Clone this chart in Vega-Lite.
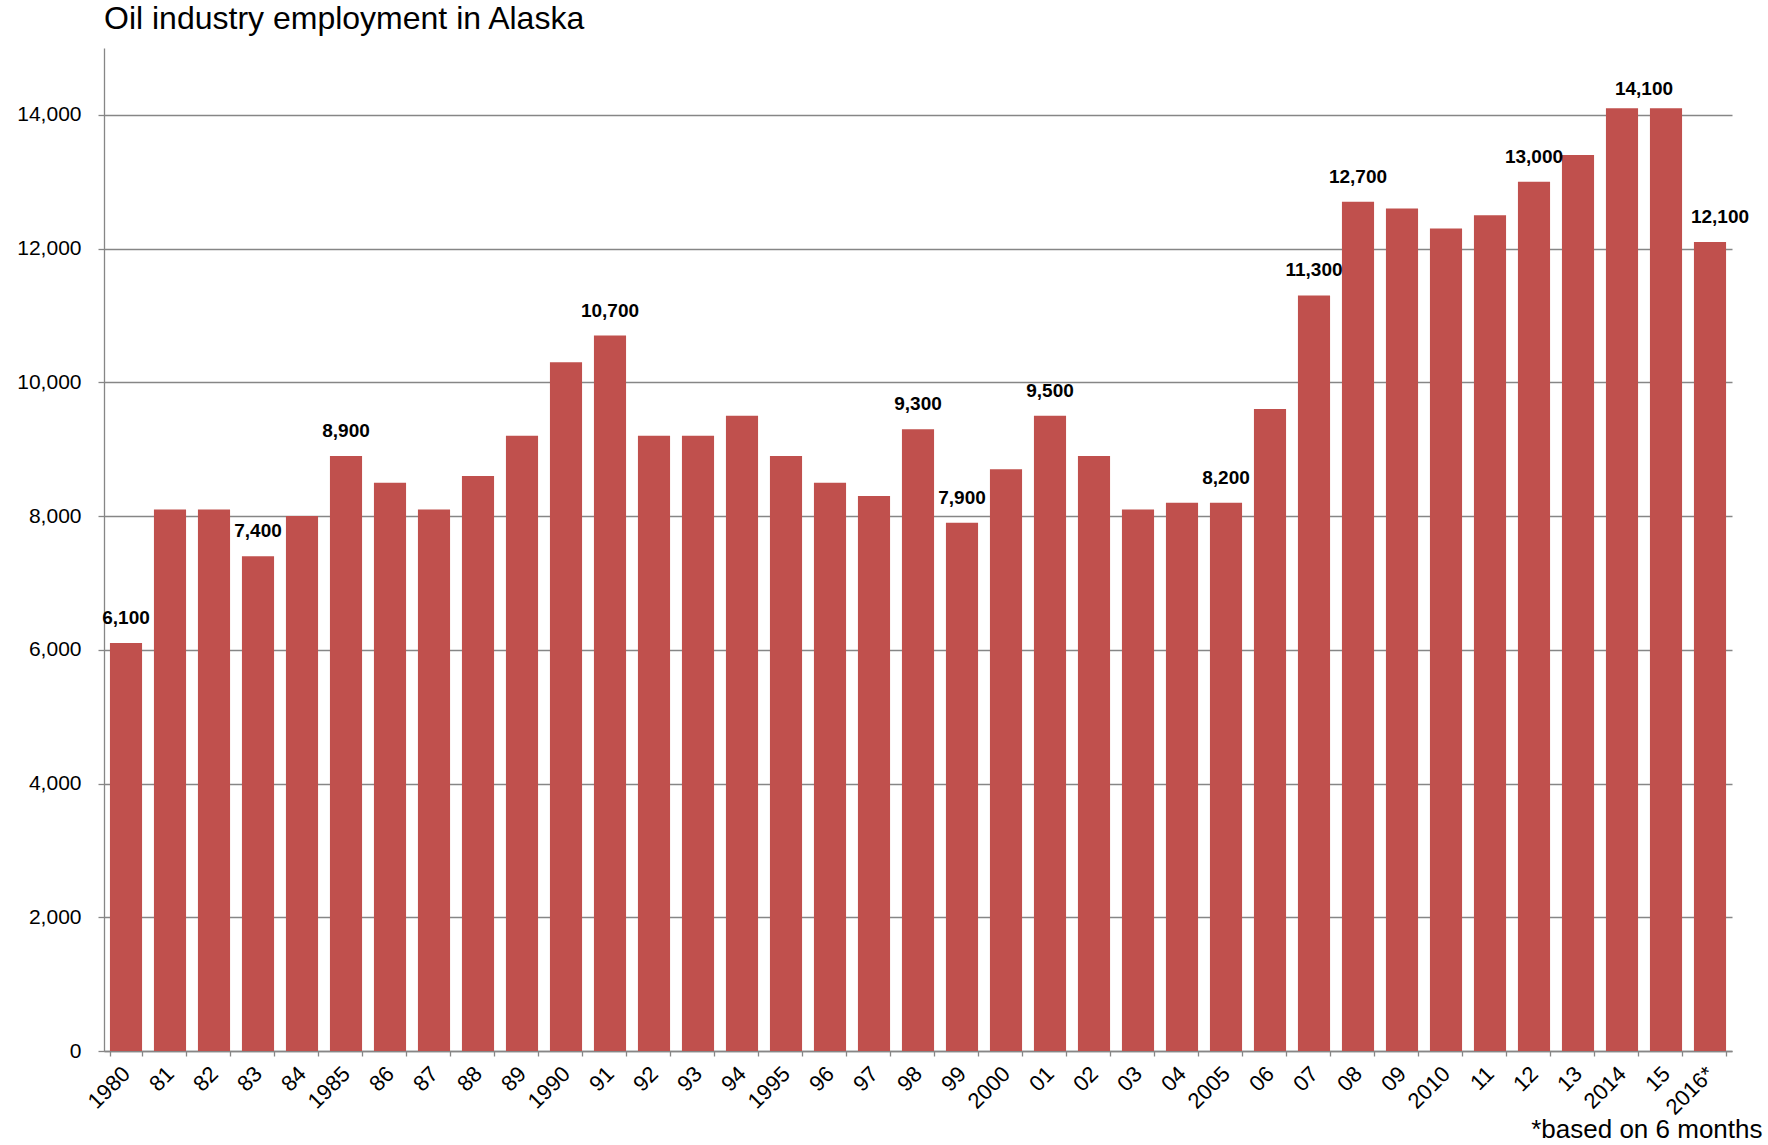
{
  "$schema": "https://vega.github.io/schema/vega-lite/v6.json",
  "width": 1628,
  "height": 1003,
  "autosize": "none",
  "padding": {"left": 104, "top": 48, "right": 36, "bottom": 94},
  "background": "white",
  "config": {"view": {"stroke": null}},
  "title": {
    "text": "Oil industry employment in Alaska",
    "anchor": "start",
    "frame": "group",
    "font": "Liberation Sans",
    "fontSize": 32,
    "fontWeight": "normal",
    "color": "#000000",
    "offset": 12
  },
  "data": {
    "values": [
      {"year": "1980", "employment": 6100, "labeled": true},
      {"year": "81", "employment": 8100, "labeled": false},
      {"year": "82", "employment": 8100, "labeled": false},
      {"year": "83", "employment": 7400, "labeled": true},
      {"year": "84", "employment": 8000, "labeled": false},
      {"year": "1985", "employment": 8900, "labeled": true},
      {"year": "86", "employment": 8500, "labeled": false},
      {"year": "87", "employment": 8100, "labeled": false},
      {"year": "88", "employment": 8600, "labeled": false},
      {"year": "89", "employment": 9200, "labeled": false},
      {"year": "1990", "employment": 10300, "labeled": false},
      {"year": "91", "employment": 10700, "labeled": true},
      {"year": "92", "employment": 9200, "labeled": false},
      {"year": "93", "employment": 9200, "labeled": false},
      {"year": "94", "employment": 9500, "labeled": false},
      {"year": "1995", "employment": 8900, "labeled": false},
      {"year": "96", "employment": 8500, "labeled": false},
      {"year": "97", "employment": 8300, "labeled": false},
      {"year": "98", "employment": 9300, "labeled": true},
      {"year": "99", "employment": 7900, "labeled": true},
      {"year": "2000", "employment": 8700, "labeled": false},
      {"year": "01", "employment": 9500, "labeled": true},
      {"year": "02", "employment": 8900, "labeled": false},
      {"year": "03", "employment": 8100, "labeled": false},
      {"year": "04", "employment": 8200, "labeled": false},
      {"year": "2005", "employment": 8200, "labeled": true},
      {"year": "06", "employment": 9600, "labeled": false},
      {"year": "07", "employment": 11300, "labeled": true},
      {"year": "08", "employment": 12700, "labeled": true},
      {"year": "09", "employment": 12600, "labeled": false},
      {"year": "2010", "employment": 12300, "labeled": false},
      {"year": "11", "employment": 12500, "labeled": false},
      {"year": "12", "employment": 13000, "labeled": true},
      {"year": "13", "employment": 13400, "labeled": false},
      {"year": "2014", "employment": 14100, "labeled": true},
      {"year": "15", "employment": 14100, "labeled": false},
      {"year": "2016*", "employment": 12100, "labeled": true}
    ]
  },
  "encoding": {
    "x": {
      "field": "year",
      "type": "nominal",
      "sort": null,
      "scale": {"paddingInner": 0.27, "paddingOuter": 0.135},
      "axis": {
        "title": "*based on 6 months",
        "titleFont": "Liberation Sans",
        "titleFontSize": 26,
        "titleFontWeight": "normal",
        "titleColor": "#000000",
        "titleAnchor": "end",
        "titleAlign": "right",
        "titleX": 1658,
        "titleY": 86,
        "titleBaseline": "alphabetic",
        "labelAngle": -45,
        "labelAlign": "right",
        "labelBaseline": "middle",
        "labelFont": "Liberation Sans",
        "labelFontSize": 22,
        "labelColor": "#000000",
        "labelPadding": 14,
        "labelOverlap": false,
        "tickBand": "extent",
        "ticks": true,
        "tickSize": 5,
        "tickColor": "#868686",
        "tickWidth": 1.3,
        "domainColor": "#868686",
        "domainWidth": 1.3,
        "grid": false
      }
    },
    "y": {
      "field": "employment",
      "type": "quantitative",
      "scale": {"domain": [0, 15000], "nice": false},
      "axis": {
        "title": null,
        "values": [0, 2000, 4000, 6000, 8000, 10000, 12000, 14000],
        "format": ",.0f",
        "grid": true,
        "gridColor": "#868686",
        "gridWidth": 1.3,
        "domainColor": "#868686",
        "domainWidth": 1.3,
        "tickColor": "#868686",
        "tickWidth": 1.3,
        "tickSize": 6,
        "labelPadding": 17,
        "labelFont": "Liberation Sans",
        "labelFontSize": 21,
        "labelColor": "#000000"
      }
    }
  },
  "layer": [
    {"mark": {"type": "bar", "color": "#C0504D"}},
    {
      "transform": [{"filter": "datum.labeled && datum.year != '2014' && datum.year != '2016*'"}],
      "mark": {"type": "text", "font": "Liberation Sans", "fontWeight": "bold", "fontSize": 19, "baseline": "middle", "dy": -25, "color": "#000000"},
      "encoding": {"text": {"field": "employment", "type": "quantitative", "format": ",.0f"}}
    },
    {
      "transform": [{"filter": "datum.year == '2014'"}],
      "mark": {"type": "text", "font": "Liberation Sans", "fontWeight": "bold", "fontSize": 19, "baseline": "middle", "dy": -19, "dx": 22, "color": "#000000"},
      "encoding": {"text": {"field": "employment", "type": "quantitative", "format": ",.0f"}}
    },
    {
      "transform": [{"filter": "datum.year == '2016*'"}],
      "mark": {"type": "text", "font": "Liberation Sans", "fontWeight": "bold", "fontSize": 19, "baseline": "middle", "dy": -25, "dx": 10, "color": "#000000"},
      "encoding": {"text": {"field": "employment", "type": "quantitative", "format": ",.0f"}}
    }
  ]
}
